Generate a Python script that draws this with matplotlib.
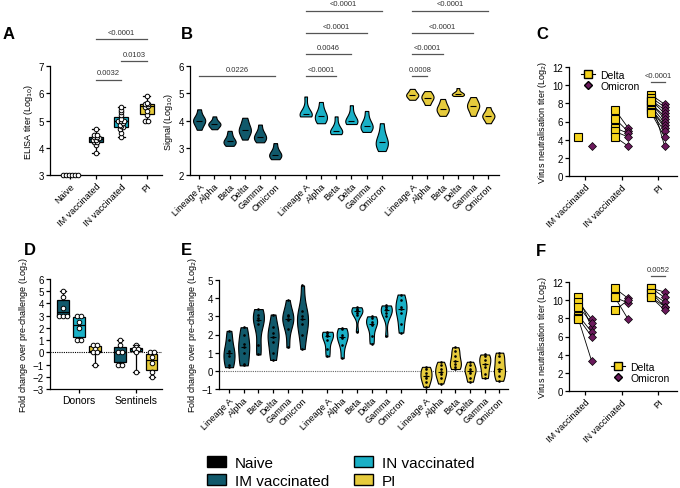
import numpy as np
import matplotlib.pyplot as plt
from matplotlib.patches import Patch
from matplotlib.lines import Line2D

plt.rcParams['font.family'] = ['Liberation Sans', 'DejaVu Sans']
plt.rcParams['font.size'] = 6.5
plt.rcParams['axes.linewidth'] = 0.9
plt.rcParams['xtick.major.width'] = 0.9
plt.rcParams['ytick.major.width'] = 0.9
plt.rcParams['xtick.major.size'] = 3
plt.rcParams['ytick.major.size'] = 3

C_NAIVE = '#000000'
C_IM = '#11596b'
C_IN = '#1ab0c6'
C_PI = '#e6cb3c'
C_DELTA = '#f5d31c'
C_OMI = '#6b1a5c'

# ---------------- data ----------------
# A: ELISA titers (log10)
a_groups = ['Naive', 'IM vaccinated', 'IN vaccinated', 'PI']
a_naive = [3.0, 3.0, 3.0, 3.0, 3.0, 3.0]
a_im = [3.8, 4.1, 4.2, 4.2, 4.3, 4.3, 4.35, 4.4, 4.4, 4.45, 4.45, 4.7]
a_in = [4.4, 4.55, 4.7, 4.75, 4.8, 4.85, 4.9, 5.0, 5.0, 5.0, 5.05, 5.2, 5.3, 5.4, 5.5]
a_pi = [5.0, 5.0, 5.2, 5.35, 5.5, 5.55, 5.6, 5.6, 5.65, 5.9]

variants = ['Lineage A', 'Alpha', 'Beta', 'Delta', 'Gamma', 'Omicron']

# B: signal (log10), violin samples per variant
b_im = [[3.66, 3.85, 3.95, 4.0, 4.05, 4.15, 4.41],
        [3.68, 3.78, 3.84, 3.87, 3.9, 3.98, 4.15],
        [3.07, 3.15, 3.2, 3.25, 3.3, 3.45, 3.62],
        [3.3, 3.5, 3.6, 3.65, 3.75, 3.9, 4.1],
        [3.2, 3.3, 3.35, 3.4, 3.5, 3.6, 3.85],
        [2.58, 2.65, 2.72, 2.75, 2.82, 2.95, 3.17]]
b_in = [[4.15, 4.18, 4.2, 4.23, 4.3, 4.5, 4.88],
        [3.9, 4.0, 4.1, 4.15, 4.25, 4.4, 4.68],
        [3.5, 3.55, 3.58, 3.6, 3.7, 3.85, 4.15],
        [3.87, 3.92, 3.95, 4.0, 4.1, 4.25, 4.56],
        [3.58, 3.7, 3.75, 3.8, 3.9, 4.05, 4.35],
        [2.88, 3.05, 3.15, 3.2, 3.35, 3.55, 3.9]]
b_pi = [[4.76, 4.85, 4.9, 4.94, 4.98, 5.05, 5.16],
        [4.57, 4.7, 4.8, 4.84, 4.9, 4.97, 5.08],
        [4.17, 4.3, 4.38, 4.42, 4.5, 4.62, 4.79],
        [4.9, 4.93, 4.95, 4.97, 5.0, 5.05, 5.19],
        [4.17, 4.35, 4.47, 4.53, 4.6, 4.7, 4.86],
        [3.9, 4.05, 4.12, 4.17, 4.22, 4.3, 4.49]]

# C: virus neutralisation (log2), Delta vs Omicron
vn_groups = ['IM vaccinated', 'IN vaccinated', 'PI']
c_delta = [[4.3],
           [7.3, 6.3, 5.3, 4.9, 4.3],
           [8.9, 8.6, 8.3, 8.3, 7.9, 7.9, 7.6, 7.3, 7.3, 7.0, 6.9, 8.3]]
c_omi = [[3.3],
         [5.3, 4.9, 4.7, 4.3, 3.3],
         [7.9, 7.6, 7.3, 6.9, 6.6, 6.3, 5.9, 5.6, 5.3, 4.9, 4.3, 3.3]]
c_paired = [False, True, True]

# D: fold change, donors / sentinels
d_cats = ['Donors', 'Sentinels']
d_donor_im = [5.0, 4.5, 3.6, 3.0, 3.0, 3.0]
d_donor_in = [3.0, 3.0, 2.5, 2.0, 1.0, 1.0]
d_donor_pi = [0.6, 0.6, 0.3, 0.0, 0.0, -1.0]
d_sent_im = [1.0, 0.6, 0.0, 0.0, -1.0, -1.0]
d_sent_in = [0.6, 0.4, 0.3, 0.3, 0.0, -1.6]
d_sent_pi = [0.0, 0.0, -0.4, -0.9, -1.6, -2.0]

# E: fold change per variant (log2)
e_im = [[0.2, 0.3, 0.8, 1.0, 1.1, 1.7, 2.2],
        [0.3, 0.4, 1.0, 1.3, 1.5, 2.0, 2.4],
        [0.9, 1.4, 2.6, 2.8, 2.9, 3.1, 3.4],
        [0.6, 1.0, 1.6, 1.85, 2.1, 2.4, 3.1],
        [1.3, 2.3, 2.8, 2.85, 3.0, 3.1, 3.9],
        [1.2, 2.0, 2.6, 2.85, 3.0, 3.3, 4.7]]
e_in = [[0.8, 1.2, 1.7, 1.9, 2.0, 2.1, 2.15],
        [0.7, 1.4, 1.8, 1.85, 2.0, 2.3, 2.35],
        [2.15, 3.1, 3.2, 3.3, 3.35, 3.4, 3.5],
        [1.5, 1.9, 2.5, 2.6, 2.7, 2.9, 3.0],
        [1.9, 3.0, 3.2, 3.35, 3.4, 3.5, 3.6],
        [2.1, 2.6, 3.2, 3.4, 3.5, 3.9, 4.2]]
e_pi = [[-0.88, -0.6, -0.4, -0.27, -0.1, 0.1, 0.22],
        [-0.7, -0.4, -0.2, -0.05, 0.1, 0.3, 0.5],
        [0.1, 0.2, 0.4, 0.55, 0.8, 1.1, 1.3],
        [-0.6, -0.4, -0.1, 0.0, 0.1, 0.3, 0.5],
        [-0.4, -0.2, 0.2, 0.4, 0.6, 0.8, 0.9],
        [-0.55, -0.3, 0.0, 0.1, 0.5, 0.8, 1.0]]

# F: virus neutralisation post challenge (log2)
f_delta = [[10.3, 9.8, 9.3, 8.3, 8.0, 7.9],
           [11.3, 10.3, 10.3, 8.9],
           [11.3, 11.3, 10.8, 10.8, 10.3, 10.3]]
f_omi = [[7.0, 7.9, 7.5, 6.5, 6.0, 3.3],
         [10.2, 9.7, 7.9, 10.0],
         [10.9, 10.3, 9.8, 9.3, 9.3, 8.9]]
f_paired = [True, True, True]

W, H = 680, 489
TICK_FS = 7
ROT_FS = 6.6
LAB_FS = 6.5
fig = plt.figure(figsize=(W / 100, H / 100), dpi=100)


def add_ax(left, top, right, bottom):
    ax = fig.add_axes([left / W, 1 - bottom / H, (right - left) / W, (bottom - top) / H])
    ax.spines['top'].set_visible(False)
    ax.spines['right'].set_visible(False)
    ax.tick_params(labelsize=TICK_FS, pad=1.5)
    return ax


def letter(x, y, s):
    fig.text(x / W, 1 - y / H, s, fontsize=12, fontweight='bold', va='top', ha='left')


def sig(ax, x1, x2, y, txt):
    ax.plot([x1, x2], [y, y], color='#555555', lw=0.9, clip_on=False)
    ax.annotate(txt, ((x1 + x2) / 2, y), xytext=(0, 2.5), textcoords='offset points',
                ha='center', va='bottom', fontsize=5.5, color='#333333', annotation_clip=False)


def swarm_offsets(vals, step=0.1, bin_size=0.07):
    vals = np.asarray(vals, dtype=float)
    offs = np.zeros(len(vals))
    bins = np.round(vals / bin_size)
    for b in np.unique(bins):
        idx = np.where(bins == b)[0]
        n = len(idx)
        offs[idx] = (np.arange(n) - (n - 1) / 2) * step
    return offs


def rot_labels(ax, labels, size=ROT_FS):
    ax.set_xticklabels(labels, rotation=45, ha='right', rotation_mode='anchor', fontsize=size)


def violins(ax, data, positions, color, width=0.8, dots=False):
    parts = ax.violinplot(data, positions=positions, widths=width, showextrema=False,
                          showmedians=True, bw_method=0.6)
    for body in parts['bodies']:
        body.set_facecolor(color)
        body.set_edgecolor('black')
        body.set_linewidth(0.8)
        body.set_alpha(1)
    parts['cmedians'].set_color('black')
    parts['cmedians'].set_linewidth(0.8)
    if dots:
        for p, d in zip(positions, data):
            ax.scatter(np.full(len(d), p), d, s=0.8, color='black', zorder=3)


# ---------------- A ----------------
axA = add_ax(50, 67, 162, 176)
a_data = [a_naive, a_im, a_in, a_pi]
a_cols = [C_NAIVE, C_IM, C_IN, C_PI]
bp = axA.boxplot(a_data, positions=range(4), widths=0.55, whis=(0, 100), patch_artist=True,
                 showfliers=False, medianprops=dict(color='black', lw=0.9),
                 whiskerprops=dict(lw=0.9), capprops=dict(lw=0.9))
for patch, c in zip(bp['boxes'], a_cols):
    patch.set_facecolor(c)
    patch.set_linewidth(0.9)
for i, d in enumerate(a_data):
    axA.plot(i + swarm_offsets(d, 0.12, 0.08), d, 'o', ms=3.3, mfc='white', mec='black',
             mew=0.7, clip_on=False, zorder=4)
axA.set_ylim(3, 7)
axA.set_yticks([3, 4, 5, 6, 7])
axA.set_xlim(-0.8, 3.6)
axA.set_xticks(range(4))
rot_labels(axA, a_groups)
axA.set_ylabel('ELISA titer (Log$_{10}$)', fontsize=LAB_FS, labelpad=2)
sig(axA, 1, 2, 6.49, '0.0032')
sig(axA, 2, 3, 7.18, '0.0103')
sig(axA, 1, 3, 7.99, '<0.0001')
letter(3, 27, 'A')

# ---------------- B ----------------
axB = add_ax(190, 67, 499, 176)
pos1 = np.arange(6)
pos2 = pos1 + 7
pos3 = pos1 + 14
violins(axB, b_im, pos1, C_IM)
violins(axB, b_in, pos2, C_IN)
violins(axB, b_pi, pos3, C_PI)
axB.set_ylim(2, 6)
axB.set_yticks([2, 3, 4, 5, 6])
axB.set_xlim(-0.6, 19.7)
axB.set_xticks(np.concatenate([pos1, pos2, pos3]))
rot_labels(axB, variants * 3)
axB.set_ylabel('Signal (Log$_{10}$)', fontsize=LAB_FS, labelpad=2)
sig(axB, pos1[0], pos1[5], 5.63, '0.0226')
sig(axB, pos2[0], pos2[2], 5.63, '<0.0001')
sig(axB, pos2[0], pos2[3], 6.44, '0.0046')
sig(axB, pos2[0], pos2[4], 7.21, '<0.0001')
sig(axB, pos2[0], pos2[5], 8.02, '<0.0001')
sig(axB, pos3[0], pos3[1], 5.63, '0.0008')
sig(axB, pos3[0], pos3[2], 6.44, '<0.0001')
sig(axB, pos3[0], pos3[4], 7.21, '<0.0001')
sig(axB, pos3[0], pos3[5], 8.02, '<0.0001')
letter(181, 27, 'B')


# ---------------- C / F ----------------
def vn_panel(ax, delta, omi, paired):
    off = 0.18
    for i in range(3):
        xd = np.full(len(delta[i]), i - off)
        xo = np.full(len(omi[i]), i + off)
        if paired[i]:
            for yd, yo in zip(delta[i], omi[i]):
                ax.plot([i - off, i + off], [yd, yo], color='black', lw=0.6, zorder=2)
        ax.plot(xd, delta[i], 's', ms=6, mfc=C_DELTA, mec='black', mew=0.8, ls='none', zorder=3)
        ax.plot(xo, omi[i], 'D', ms=4.3, mfc=C_OMI, mec='black', mew=0.5, ls='none', zorder=4)
    ax.set_ylim(0, 12)
    ax.set_yticks(range(0, 13, 2))
    ax.set_xlim(-0.44, 2.52)
    ax.set_xticks(range(3))
    rot_labels(ax, vn_groups)
    ax.set_ylabel('Virus neutralisation titer (Log$_2$)', fontsize=LAB_FS, labelpad=2)


vn_handles = [Line2D([], [], color='black', lw=0.8, marker='s', ms=6, mfc=C_DELTA, mec='black'),
              Line2D([], [], color='none', marker='D', ms=4.3, mfc=C_OMI, mec='black')]

axC = add_ax(569, 68, 677, 177)
vn_panel(axC, c_delta, c_omi, c_paired)
sig(axC, 2 - 0.18, 2 + 0.18, 10.35, '<0.0001')
axC.legend(vn_handles, ['Delta', 'Omicron'], loc='upper left', bbox_to_anchor=(0.02, 1.06),
           frameon=False, fontsize=7.5, handlelength=1.4, handletextpad=0.5, labelspacing=0.1)
letter(536, 27, 'C')

axF = add_ax(569, 283, 677, 392)
vn_panel(axF, f_delta, f_omi, f_paired)
sig(axF, 2 - 0.18, 2 + 0.18, 12.66, '0.0052')
axF.legend(vn_handles, ['Delta', 'Omicron'], loc='lower right', bbox_to_anchor=(1.02, -0.01),
           frameon=False, fontsize=7.5, handlelength=1.4, handletextpad=0.5, labelspacing=0.1)
letter(536, 244, 'F')

# ---------------- D ----------------
axD = add_ax(50, 280, 162, 390)
d_off = 0.28
d_sets = [(d_donor_im, 0 - d_off, C_IM), (d_donor_in, 0, C_IN), (d_donor_pi, 0 + d_off, C_PI),
          (d_sent_im, 1 - d_off, C_IM), (d_sent_in, 1, C_IN), (d_sent_pi, 1 + d_off, C_PI)]
axD.axhline(0, color='black', lw=0.8, ls=(0, (1, 1)), zorder=1)
for vals, p, c in d_sets:
    bpd = axD.boxplot([vals], positions=[p], widths=0.2, whis=(0, 100), patch_artist=True,
                      showfliers=False, medianprops=dict(color='black', lw=0.9),
                      whiskerprops=dict(lw=0.9), capprops=dict(lw=0.9))
    bpd['boxes'][0].set_facecolor(c)
    bpd['boxes'][0].set_linewidth(0.9)
    axD.plot(p + swarm_offsets(vals, 0.07, 0.15), vals, 'o', ms=3.3, mfc='white', mec='black',
             mew=0.7, zorder=4)
axD.set_ylim(-3, 6)
axD.set_yticks(range(-3, 7))
axD.set_xlim(-0.51, 1.46)
axD.set_xticks([0, 1])
axD.set_xticklabels(d_cats, fontsize=7.5)
axD.set_ylabel('Fold change over pre-challenge (Log$_2$)', fontsize=LAB_FS, labelpad=2)
letter(24, 243, 'D')

# ---------------- E ----------------
axE = add_ax(219, 281, 508, 390)
epos1 = np.arange(6)
epos2 = epos1 + 6.7
epos3 = epos1 + 13.4
axE.axhline(0, color='#666666', lw=0.8, ls=(0, (1, 1)), zorder=0)
violins(axE, e_im, epos1, C_IM, width=0.75, dots=True)
violins(axE, e_in, epos2, C_IN, width=0.75, dots=True)
violins(axE, e_pi, epos3, C_PI, width=0.75, dots=True)
axE.set_ylim(-1, 5)
axE.set_yticks(range(-1, 6))
axE.set_xlim(-0.68, 18.98)
axE.set_xticks(np.concatenate([epos1, epos2, epos3]))
rot_labels(axE, variants * 3)
axE.set_ylabel('Fold change over pre-challenge (Log$_2$)', fontsize=LAB_FS, labelpad=2)
letter(181, 243, 'E')

# ---------------- legend ----------------
leg_handles = [Patch(facecolor=C_NAIVE, edgecolor='black', lw=1),
               Patch(facecolor=C_IM, edgecolor='black', lw=1),
               Patch(facecolor=C_IN, edgecolor='black', lw=1),
               Patch(facecolor=C_PI, edgecolor='black', lw=1)]
fig.legend(leg_handles, ['Naive', 'IM vaccinated', 'IN vaccinated', 'PI'],
           loc='upper left', bbox_to_anchor=(196 / W, 1 - 446 / H), ncol=2, frameon=False,
           fontsize=11, handlelength=1.25, handleheight=0.7, handletextpad=0.6,
           columnspacing=1.6, labelspacing=0.25, borderpad=0.2)

fig.savefig('out.png', dpi=100)
